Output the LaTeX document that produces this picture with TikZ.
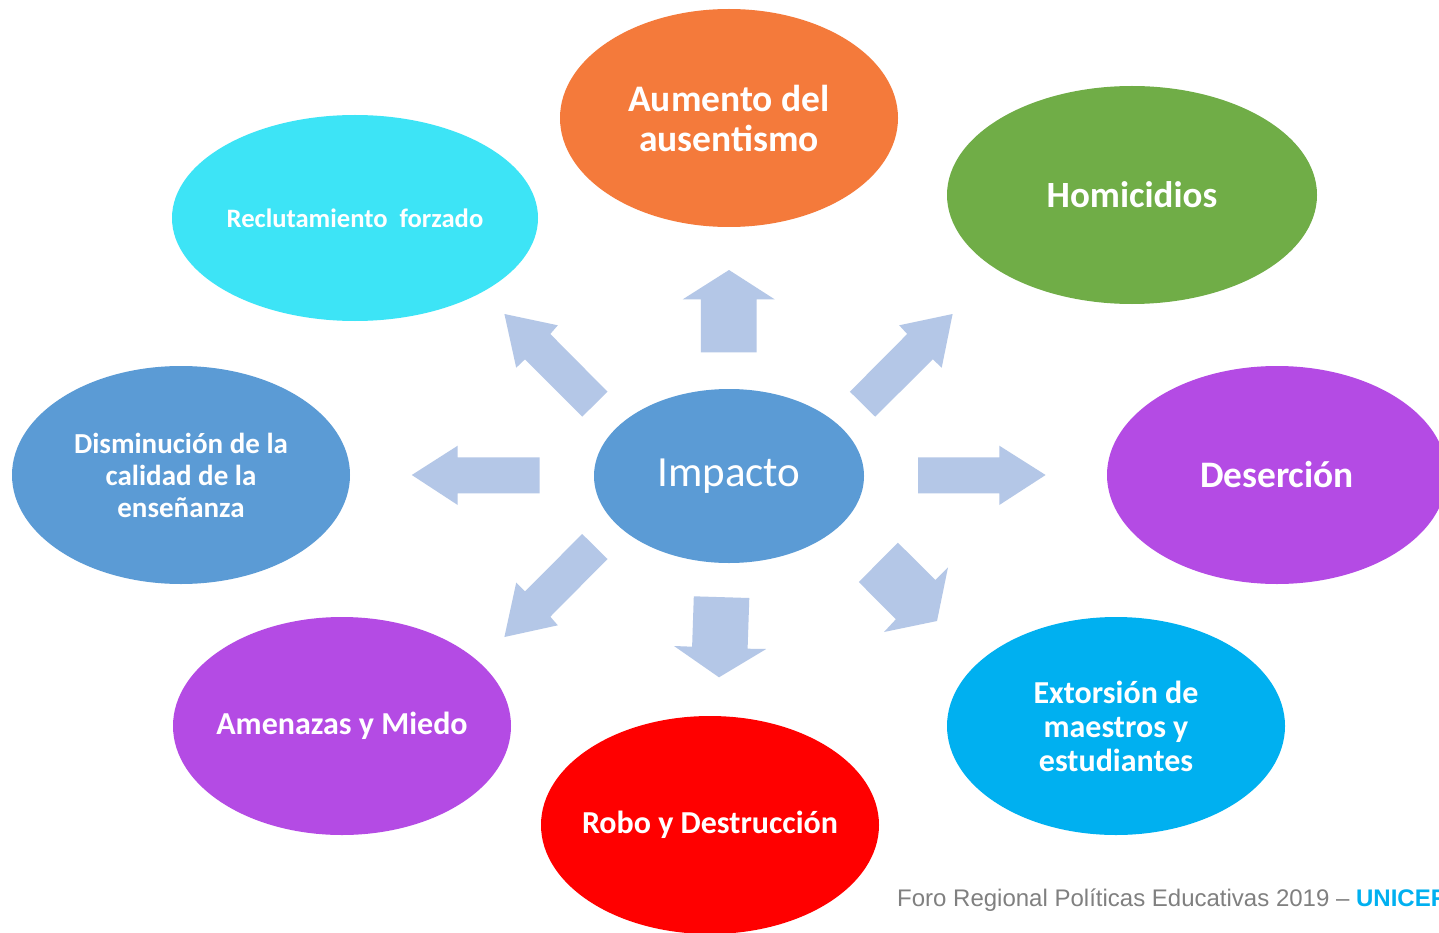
\documentclass[tikz,border=0pt]{standalone}
\usepackage{fontspec}
\setmainfont{Carlito}
\newfontfamily\footfont{Liberation Sans}
\usetikzlibrary{shapes.geometric}
\definecolor{arrowblue}{HTML}{B4C7E7}
\definecolor{impblue}{HTML}{5B9BD5}
\definecolor{aumorange}{HTML}{F47A3B}
\definecolor{reccyan}{HTML}{3DE4F6}
\definecolor{homgreen}{HTML}{70AD47}
\definecolor{despurple}{HTML}{B44BE4}
\definecolor{robored}{HTML}{FF0000}
\definecolor{extblue}{HTML}{00B0F0}
\definecolor{footgray}{HTML}{808080}
\tikzset{
  bubble/.style={ellipse, inner sep=-30pt, minimum width=338pt, minimum height=218pt,
    text=white, align=center, font=\bfseries\fontsize{37}{40}\selectfont},
  blockarrow/.style={fill=arrowblue, draw=none}
}
\begin{document}
\begin{tikzpicture}[x=1pt,y=-1pt]
\useasboundingbox (0,0) rectangle (1439,933);
\clip (0,0) rectangle (1439,933);
\fill[white] (0,0) rectangle (1439,933);

% block arrows
\fill[blockarrow] (729,270) -- (774.6,299.3) -- (756.5,299.3) -- (756.5,352.3) -- (700.9,352.3) -- (700.9,299.3) -- (682.8,299.3) -- cycle;
\fill[blockarrow] (411.8,475) -- (457.7,445.7) -- (457.7,457.3) -- (539.7,457.3) -- (539.7,493.3) -- (457.7,493.3) -- (457.7,505) -- cycle;
\fill[blockarrow] (1045.6,475) -- (999.3,445.7) -- (999.3,457.3) -- (918,457.3) -- (918,493.3) -- (999.3,493.3) -- (999.3,505) -- cycle;
\fill[blockarrow] (504.4,314) -- (557.8,325.3) -- (550.3,334) -- (607.5,391.7) -- (582.2,416.7) -- (525,359.3) -- (516.2,367.7) -- cycle;
\fill[blockarrow] (952.6,314) -- (899.2,325.3) -- (907.2,334) -- (849.9,391.7) -- (875.2,416.7) -- (932.8,359.3) -- (941.7,367.7) -- cycle;
\fill[blockarrow] (504.4,637) -- (557.8,625.3) -- (550.3,616.7) -- (607.5,559) -- (582.2,534) -- (525,591.3) -- (516.2,582.7) -- cycle;
\fill[blockarrow] (719,677.3) -- (766.2,649) -- (747.6,648.7) -- (749.3,598) -- (693.8,596.3) -- (692.1,646.7) -- (674,646) -- cycle;
\fill[blockarrow] (937,621) -- (884,632) -- (895.8,619.3) -- (858.8,582) -- (897.9,542.7) -- (935.4,580) -- (948,567.3) -- cycle;

% bubbles
\node[bubble, fill=impblue, minimum width=270pt, minimum height=174pt,
  font=\fontsize{43}{48}\selectfont] (imp) at (729,476) {Impacto};
\node[bubble, fill=aumorange, font=\bfseries\fontsize{37.5}{40}\selectfont] (aum) at (729,118) {Aumento del\\ausentismo};
\node[bubble, fill=reccyan, minimum width=366pt, minimum height=206pt,
  font=\bfseries\fontsize{26.6}{30}\selectfont] (rec) at (355,218) {Reclutamiento\ \ forzado};
\node[bubble, fill=homgreen, minimum width=370pt] (hom) at (1132,195) {Homicidios};
\node[bubble, fill=impblue, font=\bfseries\fontsize{29}{32}\selectfont] (dis) at (181,475) {Disminución de la\\calidad de la\\enseñanza};
\node[bubble, fill=despurple, minimum width=340pt, font=\bfseries\fontsize{37.4}{40}\selectfont] (des) at (1277,475) {Deserción};
\node[bubble, fill=despurple, font=\bfseries\fontsize{32}{36}\selectfont] (ame) at (342,726) {Amenazas y Miedo};
\node[bubble, fill=robored, font=\bfseries\fontsize{32}{36}\selectfont] (rob) at (710,825) {Robo y Destrucción};
\node[bubble, fill=extblue, font=\bfseries\fontsize{32}{34}\selectfont] (ext) at (1116,726) {Extorsión de\\maestros y\\estudiantes};

% footer (cut at the right edge, as in the reference)
\node[anchor=base west, inner sep=0pt, text=footgray, font=\footfont\fontsize{24}{28}\selectfont] (foot) at (897,906)
  {Foro Regional Políticas Educativas 2019 – {\bfseries\color{extblue}UNICEF}};
\end{tikzpicture}
\end{document}
